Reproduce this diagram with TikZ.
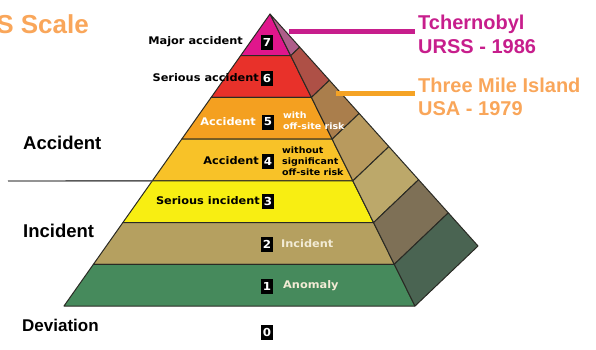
\documentclass[tikz,border=0pt]{standalone}
\usepackage{fontspec}
\setmainfont{DejaVu Sans}
\newfontfamily\vb{DejaVu Sans}[FakeStretch=1.08]
\newfontfamily\hv{Liberation Sans}
\usetikzlibrary{calc}
\definecolor{f7}{HTML}{E0168C}\definecolor{s7}{HTML}{AE5E8A}
\definecolor{f6}{HTML}{E8312A}\definecolor{s6}{HTML}{AE5046}
\definecolor{f5}{HTML}{F4A020}\definecolor{s5}{HTML}{AA7E4C}
\definecolor{f4}{HTML}{F8C228}\definecolor{s4}{HTML}{B89A5E}
\definecolor{f3}{HTML}{F8EE12}\definecolor{s3}{HTML}{BCA86A}
\definecolor{f2}{HTML}{B5A060}\definecolor{s2}{HTML}{7E7056}
\definecolor{f1}{HTML}{468A5C}\definecolor{s1}{HTML}{4A6452}
\definecolor{edge}{HTML}{2A2A24}
\definecolor{tcher}{HTML}{C71E8C}
\definecolor{tmitext}{HTML}{F9A65A}
\definecolor{tmiline}{HTML}{F5A325}
\definecolor{cream}{HTML}{F2EBD5}
\begin{document}
\begin{tikzpicture}[x=1pt,y=-1pt,
  band/.style={line width=1pt,draw=edge,line join=round},
  numbox/.style={fill=black,text=white,font=\vb\bfseries\fontsize{11}{11}\selectfont,inner sep=0pt,minimum width=12pt,minimum height=15pt},
  lbl/.style={font=\vb\bfseries\fontsize{10.5}{11}\selectfont,inner sep=0pt},
  small/.style={font=\vb\bfseries\fontsize{8.8}{10.8}\selectfont,inner sep=0pt,align=left},
  side/.style={font=\hv\bfseries\fontsize{18.5}{19}\selectfont,inner sep=0pt,anchor=west},
  event/.style={font=\hv\bfseries\fontsize{20}{22}\selectfont,inner sep=0pt,anchor=base west}]
\useasboundingbox (0,0) rectangle (596,349);
\coordinate (A) at (270,14);
\coordinate (L) at (64,306);
\coordinate (R) at (415,306);
\coordinate (B) at (478,246);
\foreach \i/\fc/\sc in {0/f7/s7,1/f6/s6,2/f5/s5,3/f4/s4,4/f3/s3,5/f2/s2,6/f1/s1}{
  \pgfmathsetmacro\ta{\i/7}
  \pgfmathsetmacro\tb{(\i+1)/7}
  \filldraw[band,fill=\fc] ($(A)!\ta!(L)$) -- ($(A)!\tb!(L)$) -- ($(A)!\tb!(R)$) -- ($(A)!\ta!(R)$) -- cycle;
  \filldraw[band,fill=\sc] ($(A)!\ta!(R)$) -- ($(A)!\tb!(R)$) -- ($(A)!\tb!(B)$) -- ($(A)!\ta!(B)$) -- cycle;
}
% title
\node[font=\hv\bfseries\fontsize{26}{28}\selectfont,text=tmitext,inner sep=0pt,anchor=east] (title) at (89,24) {S Scale};
% side labels
\coordinate (sepl) at (8,181);
\draw[line width=1.4pt,draw=black!65] (sepl) -- ($(A)!4/7!(L)$);
\node[side] (acc) at (23,143) {Accident};
\node[side] (inc) at (23,231) {Incident};
\node[side,font=\hv\bfseries\fontsize{17}{18}\selectfont] (dev) at (22,325) {Deviation};
% number boxes
\node[numbox] (n7) at (267,42) {7};
\node[numbox] (n6) at (267,78) {6};
\node[numbox] (n5) at (268,122) {5};
\node[numbox] (n4) at (268,161) {4};
\node[numbox] (n3) at (268,201) {3};
\node[numbox] (n2) at (267,244) {2};
\node[numbox] (n1) at (267,286) {1};
\node[numbox] (n0) at (267,332) {0};
% level labels
\node[lbl,anchor=east] (l7) at (243,42) {Major accident};
\node[lbl,anchor=east] (l6) at (259,78) {Serious accident};
\node[lbl,anchor=east,text=white] (l5) at (256,122) {Accident};
\node[small,anchor=west,text=white] (l5b) at (283,121) {with\\off-site risk};
\node[lbl,anchor=east] (l4) at (259,161) {Accident};
\node[small,anchor=west] (l4b) at (282,161) {without\\significant\\off-site risk};
\node[lbl,anchor=east] (l3) at (260,201) {Serious incident};
\node[lbl,anchor=west,text=cream] (l2) at (281,244) {Incident};
\node[lbl,anchor=west,text=cream] (l1) at (283,286) {Anomaly};
% events
\coordinate (c7) at (289,31);
\coordinate (c5) at (336,93);
\coordinate (e7) at (415,31);
\coordinate (e5) at (415,93);
\draw[line width=5pt,draw=tcher] (c7) -- (e7);
\draw[line width=5pt,draw=tmiline] (c5) -- (e5);
\node[event,text=tcher] (tch) at (418,29) {Tchernobyl};
\node[event,text=tcher] (urss) at (418,53) {URSS - 1986};
\node[event,text=tmitext] (tmi) at (418,92) {Three Mile Island};
\node[event,text=tmitext] (usa) at (418,115) {USA - 1979};
\end{tikzpicture}
\end{document}
